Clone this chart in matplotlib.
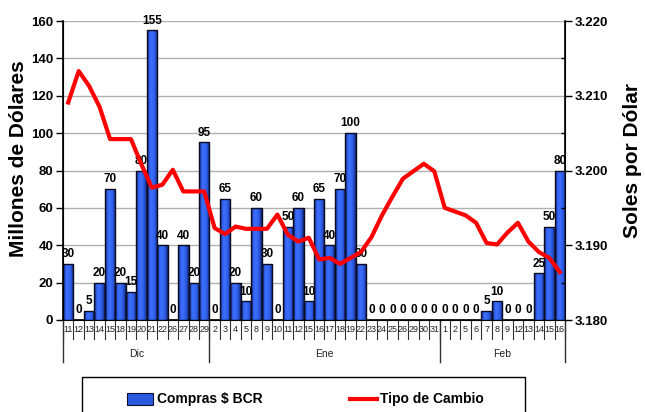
import matplotlib
matplotlib.use("Agg")
import matplotlib.pyplot as plt
import numpy as np
from matplotlib.lines import Line2D
from matplotlib.patches import Rectangle
from matplotlib.colors import LinearSegmentedColormap
import matplotlib.transforms as mtransforms

days_dic = ["11","12","13","14","15","18","19","20","21","22","26","27","28","29"]
days_ene = ["2","3","4","5","8","9","10","11","12","15","16","17","18","19","22","23","24","25","26","29","30","31"]
days_feb = ["1","2","5","6","7","8","9","12","13","14","15","16"]
months = ["Dic", "Ene", "Feb"]

compras_dic = [30,0,5,20,70,20,15,80,155,40,0,40,20,95]
compras_ene = [0,65,20,10,60,30,0,50,60,10,65,40,70,100,30,0,0,0,0,0,0,0]
compras_feb = [0,0,0,0,5,10,0,0,0,25,50,80]

tc_dic = [3.2091,3.2133,3.2113,3.2085,3.2042,3.2042,3.2042,3.2008,3.1977,3.1981,3.2001,3.1972,3.1972,3.1972]
tc_ene = [3.1923,3.1915,3.1925,3.1922,3.1922,3.1922,3.1941,3.1914,3.1905,3.1910,3.1881,3.1883,3.1875,3.1883,3.1891,3.1911,3.1940,3.1965,3.1989,3.1999,3.2009,3.1999]
tc_feb = [3.1950,3.1945,3.1940,3.1930,3.1903,3.1901,3.1917,3.1930,3.1905,3.1891,3.1883,3.1864]

days = days_dic + days_ene + days_feb
compras = compras_dic + compras_ene + compras_feb
tc = tc_dic + tc_ene + tc_feb
group_sizes = [len(days_dic), len(days_ene), len(days_feb)]

FONT = "Liberation Sans"
W, H = 645, 412
fig = plt.figure(figsize=(W/100, H/100), dpi=100)
L, R, T, B = 63, 565, 21, 320
ax = fig.add_axes([L/W, 1-B/H, (R-L)/W, (B-T)/H])

grad_cmap = LinearSegmentedColormap.from_list(
    "bar", [(0.0, "#16287a"), (0.25, "#3366f5"), (0.45, "#3d70ff"), (0.75, "#2a58e0"), (1.0, "#13246e")])
grad = np.linspace(0, 1, 64).reshape(1, -1)

x = np.arange(len(days))
bars = ax.bar(x, compras, width=1.0, color="#2a5ae0", edgecolor="none", zorder=3)
for rect in bars:
    x0, w, h = rect.get_x(), rect.get_width(), rect.get_height()
    if h <= 0:
        continue
    im = ax.imshow(grad, extent=[x0, x0 + w, 0, h], aspect="auto", cmap=grad_cmap,
                   origin="lower", zorder=3.1, interpolation="bilinear")
    im.set_clip_path(rect)
ax.bar(x, compras, width=1.0, fill=False, edgecolor="#0a0a20", linewidth=1.0, zorder=3.2)

ax.set_xlim(-0.5, len(days)-0.5)
ax.set_ylim(0, 160)
ax.set_aspect("auto")
ax.set_yticks(np.arange(0, 161, 20))
ax.yaxis.grid(True, color="#b0b0b0", linewidth=1.0, zorder=0)
ax.set_axisbelow(True)
for lab in ax.get_yticklabels():
    lab.set_fontweight("bold")
    lab.set_fontfamily(FONT)
    lab.set_fontsize(9.5)
ax.tick_params(axis="y", length=5, width=1, direction="out", pad=2)
ax.tick_params(axis="x", length=0, labelbottom=False)
ax.spines["top"].set_visible(False)
for s in ["left", "bottom", "right"]:
    ax.spines[s].set_linewidth(1.2)

for xi, v in zip(x, compras):
    ax.text(xi, v + 2, str(v), ha="center", va="bottom", fontsize=8.5, fontweight="bold",
            family=FONT, color="black", zorder=4)

ax2 = ax.twinx()
ax2.plot(x, tc, color="#ff0000", linewidth=3, zorder=5)
ax2.set_ylim(3.18, 3.22)
ticks_r = [3.18, 3.19, 3.20, 3.21, 3.22]
ax2.set_yticks(ticks_r)
ax2.set_yticklabels(["%.3f" % t for t in ticks_r], fontweight="bold", family=FONT, fontsize=9.5)
ax2.set_yticks([3.185, 3.195, 3.205, 3.215], minor=True)
ax2.tick_params(axis="y", which="major", length=5, width=1, direction="out", pad=2)
ax2.tick_params(axis="y", which="minor", length=3, width=1, direction="in")
ax2.spines["top"].set_visible(False)

fig.text(19/W, 1 - 159/H, "Millones de Dólares", rotation=90, ha="center", va="center",
         fontsize=15, fontweight="bold", family=FONT)
fig.text(633/W, 1 - 160/H, "Soles por Dólar", rotation=90, ha="center", va="center",
         fontsize=15, fontweight="bold", family=FONT)

# category axis (two levels)
trans = mtransforms.blended_transform_factory(ax.transData, fig.transFigure)
y_top = 1 - B/H
y_day_bot = 1 - 339/H
y_grp_bot = 1 - 362/H
for i in range(len(days) + 1):
    ax.add_line(Line2D([i-0.5, i-0.5], [y_top, y_day_bot], transform=trans, color="#303030",
                       linewidth=0.8, clip_on=False))
for i, d in enumerate(days):
    ax.text(i, 1 - 329/H, d, transform=trans, ha="center", va="center", fontsize=6.5,
            family=FONT, color="#222222")
bounds = [0]
for g in group_sizes:
    bounds.append(bounds[-1] + g)
for b in bounds:
    ax.add_line(Line2D([b-0.5, b-0.5], [y_top, y_grp_bot], transform=trans, color="#303030",
                       linewidth=1.0, clip_on=False))
for m, s, e in zip(months, bounds[:-1], bounds[1:]):
    ax.text((s + e - 1)/2, 1 - 354/H, m, transform=trans, ha="center", va="center", fontsize=7.5,
            family=FONT, color="#222222")

# legend box and entries
fig.patches.append(Rectangle((82/W, -0.05), (525-82)/W, 0.05 + 1 - 377/H, transform=fig.transFigure,
                             facecolor="none", edgecolor="black", linewidth=1.0))
fig.patches.append(Rectangle((127/W, 1 - 405/H), 26/W, 12/H, transform=fig.transFigure,
                             facecolor="#2a5ae0", edgecolor="#101030", linewidth=0.8))
fig.text(157/W, 1 - 399/H, "Compras $ BCR", ha="left", va="center", fontsize=10,
         fontweight="bold", family=FONT)
fig.lines.append(Line2D([350/W, 377/W], [1 - 399/H, 1 - 399/H], transform=fig.transFigure,
                        color="#ff0000", linewidth=3))
fig.text(380/W, 1 - 399/H, "Tipo de Cambio", ha="left", va="center", fontsize=10,
         fontweight="bold", family=FONT)

fig.savefig("out.png", dpi=100)
